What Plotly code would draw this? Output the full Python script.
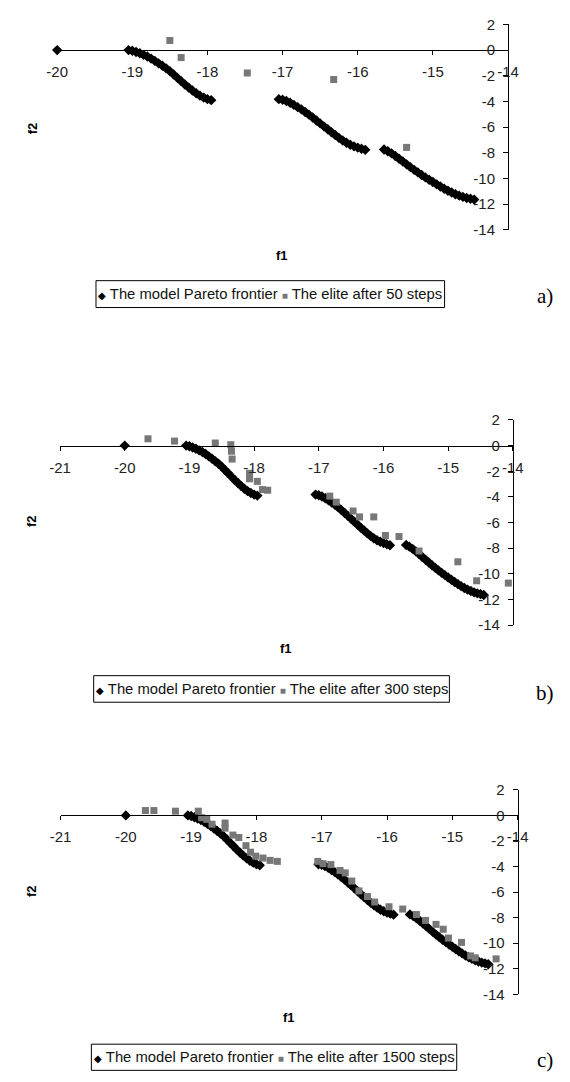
import plotly.graph_objects as go

W, H = 570, 1082

# ---------------- data ----------------
# Model Pareto frontier (identical in the three panels)
front_f1 = [-20.00,
            -19.05, -19.00, -18.95, -18.90, -18.85, -18.80, -18.75, -18.70, -18.65, -18.60,
            -18.55, -18.50, -18.45, -18.40, -18.35, -18.30, -18.25, -18.20, -18.15, -18.10,
            -18.05, -18.00, -17.95,
            -17.05, -17.00, -16.95, -16.90, -16.85, -16.80, -16.75, -16.70, -16.65, -16.60,
            -16.55, -16.50, -16.45, -16.40, -16.35, -16.30, -16.25, -16.20, -16.15, -16.10,
            -16.05, -16.00, -15.95, -15.90,
            -15.65, -15.60, -15.55, -15.50, -15.45, -15.40, -15.35, -15.30, -15.25, -15.20,
            -15.15, -15.10, -15.05, -15.00, -14.95, -14.90, -14.85, -14.80, -14.75, -14.70,
            -14.65, -14.60, -14.55, -14.50, -14.45]
front_f2 = [0.00,
            0.00, -0.05, -0.15, -0.25, -0.37, -0.50, -0.66, -0.84, -1.03, -1.22,
            -1.42, -1.64, -1.90, -2.16, -2.42, -2.68, -2.92, -3.15, -3.36, -3.55,
            -3.70, -3.82, -3.90,
            -3.82, -3.87, -3.97, -4.10, -4.27, -4.44, -4.62, -4.82, -5.03, -5.25,
            -5.48, -5.71, -5.94, -6.17, -6.40, -6.62, -6.84, -7.04, -7.22, -7.38,
            -7.50, -7.60, -7.69, -7.77,
            -7.75, -7.88, -8.05, -8.25, -8.46, -8.68, -8.90, -9.12, -9.33, -9.53,
            -9.73, -9.92, -10.10, -10.28, -10.46, -10.63, -10.80, -10.96, -11.10, -11.23,
            -11.34, -11.44, -11.52, -11.58, -11.65]

# The elite after 50 steps
elite50_f1 = [-18.50, -18.35, -17.47, -16.32, -15.35]
elite50_f2 = [0.75, -0.58, -1.78, -2.29, -7.58]

# The elite after 300 steps
elite300_f1 = [-19.64, -19.23, -18.60, -18.36, -18.35, -18.34, -18.07, -18.07, -17.95, -17.87,
               -17.79, -16.83, -16.73, -16.47, -16.37, -16.15, -15.97, -15.76, -15.45, -14.85,
               -14.56, -14.07]
elite300_f2 = [0.53, 0.35, 0.20, 0.07, -0.44, -1.05, -2.16, -2.59, -2.79, -3.43,
               -3.48, -3.94, -4.41, -5.10, -5.56, -5.56, -7.01, -7.09, -8.22, -9.06,
               -10.54, -10.72]

# The elite after 1500 steps
elite1500_f1 = [-19.70, -19.57, -19.24, -18.89, -18.84, -18.76, -18.68, -18.48, -18.48, -18.36,
                -18.27, -18.16, -18.09, -18.01, -17.90, -17.79, -17.68, -17.06, -16.98, -16.86,
                -16.72, -16.64, -16.54, -16.43, -16.30, -16.19, -15.97, -15.76, -15.55, -15.41,
                -15.25, -15.14, -15.06, -14.86, -14.72, -14.65, -14.33]
elite1500_f2 = [0.38, 0.38, 0.33, 0.33, -0.18, -0.31, -0.69, -0.60, -1.00, -1.54,
                -1.73, -2.37, -2.88, -3.19, -3.34, -3.52, -3.60, -3.60, -3.78, -3.85,
                -4.31, -4.50, -5.14, -5.91, -6.35, -6.78, -7.15, -7.33, -7.76, -8.22,
                -8.53, -8.91, -9.60, -9.94, -11.00, -11.15, -11.23]

front_name = "The model Pareto frontier"
elite_names = ["The elite after 50 steps", "The elite after 300 steps", "The elite after 1500 steps"]
panel_tags = ["a)", "b)", "c)"]

# tick values / labels (plain hyphen minus, as in the original)
x_ticks_a = [-20, -19, -18, -17, -16, -15, -14]
x_ticks_bc = [-21, -20, -19, -18, -17, -16, -15, -14]
y_ticks = [2, 0, -2, -4, -6, -8, -10, -12, -14]
x_ticks = [x_ticks_a, x_ticks_bc, x_ticks_bc]
x_ranges = [[-20, -14], [-21, -14], [-21, -14]]
y_range = [-14, 2]

# ---------------- layout geometry (pixels) ----------------
panels = [
    dict(left=48, right=517, top=15.7, bottom=224.3,
         f1=(281.8, 250), f2=(22, 121), leg=(88.4, 451, 276, 303.3), tag=(555, 292)),
    dict(left=51, right=522, top=417.5, bottom=626,
         f1=(286, 650), f2=(22, 520), leg=(86, 456, 677.3, 704.3), tag=(555, 695)),
    dict(left=51.5, right=527, top=793.3, bottom=1001,
         f1=(289, 1025), f2=(22, 896), leg=(83.6, 463.6, 1051.7, 1078.3), tag=(555, 1068)),
]
elites = [(elite50_f1, elite50_f2), (elite300_f1, elite300_f2), (elite1500_f1, elite1500_f2)]

FONT = "Liberation Sans, Arial, sans-serif"
GREY = "#777777"
TICKCOL = "#222222"


def px(x):
    return x / W


def py(y):
    return 1 - y / H


def lab(v):
    return "%d" % v


fig = go.Figure()
annotations = []
shapes = []
layout_axes = {}

for i, p in enumerate(panels):
    n = "" if i == 0 else str(i + 1)
    xa, ya = "x" + n, "y" + n
    ef1, ef2 = elites[i]
    fig.add_trace(go.Scatter(x=front_f1, y=front_f2, mode="markers", name=front_name,
                             xaxis=xa, yaxis=ya, cliponaxis=False, showlegend=False,
                             marker=dict(symbol="diamond", size=8, color="#000000",
                                         line=dict(width=0))))
    fig.add_trace(go.Scatter(x=ef1, y=ef2, mode="markers", name=elite_names[i],
                             xaxis=xa, yaxis=ya, cliponaxis=False, showlegend=False,
                             marker=dict(symbol="square", size=7, color=GREY,
                                         line=dict(width=0))))
    ydom = [py(p["bottom"]), py(p["top"])]
    xdom = [px(p["left"]), px(p["right"])]
    zero_pos = ydom[0] + (0 - y_range[0]) / (y_range[1] - y_range[0]) * (ydom[1] - ydom[0])
    layout_axes["xaxis" + n] = dict(
        domain=xdom, range=x_ranges[i], anchor="free", position=zero_pos,
        tickmode="array", tickvals=x_ticks[i], ticktext=[lab(v) for v in x_ticks[i]],
        showgrid=False, zeroline=False,
        showline=True, linecolor="#000000", linewidth=1,
        ticks="outside", ticklen=4, tickcolor="#000000",
        ticklabelstandoff=4,
        tickfont=dict(family=FONT, size=15, color=TICKCOL))
    layout_axes["yaxis" + n] = dict(
        domain=ydom, range=y_range, anchor="free", position=xdom[1], side="left",
        tickmode="array", tickvals=y_ticks, ticktext=[lab(v) for v in y_ticks],
        showgrid=False, zeroline=False,
        showline=True, linecolor="#000000", linewidth=1,
        ticks="outside", ticklen=5, tickcolor="#000000",
        ticklabelstandoff=5,
        tickfont=dict(family=FONT, size=15, color=TICKCOL))
    # axis titles
    annotations.append(dict(text="<b>f1</b>", x=px(p["f1"][0]), y=py(p["f1"][1]),
                            xref="paper", yref="paper", showarrow=False,
                            xanchor="center", yanchor="middle",
                            font=dict(family=FONT, size=13, color="#000000")))
    annotations.append(dict(text="<b>f2</b>", x=px(p["f2"][0]), y=py(p["f2"][1]),
                            xref="paper", yref="paper", showarrow=False, textangle=-90,
                            xanchor="center", yanchor="middle",
                            font=dict(family=FONT, size=13, color="#000000")))
    # legend box
    l, r, t, b = p["leg"]
    shapes.append(dict(type="rect", xref="paper", yref="paper",
                       x0=px(l), x1=px(r), y0=py(b), y1=py(t),
                       line=dict(color="#000000", width=1), fillcolor="rgba(0,0,0,0)"))
    leg_text = ("<span style='color:#000000;font-size:10px'>◆</span> " + front_name +
                " <span style='color:" + GREY + ";font-size:10px'>■</span> " + elite_names[i])
    annotations.append(dict(text=leg_text, x=px((l + r) / 2), y=py((t + b) / 2),
                            xref="paper", yref="paper", showarrow=False,
                            xanchor="center", yanchor="middle",
                            font=dict(family=FONT, size=14.8, color="#111111")))
    # panel tag
    annotations.append(dict(text=panel_tags[i], x=px(p["tag"][0]), y=py(p["tag"][1]),
                            xref="paper", yref="paper", showarrow=False,
                            xanchor="center", yanchor="middle",
                            font=dict(family="Liberation Serif, Times New Roman, serif",
                                      size=21, color="#000000")))

fig.update_layout(
    width=W, height=H, margin=dict(l=0, r=0, t=0, b=0),
    paper_bgcolor="#ffffff", plot_bgcolor="#ffffff",
    showlegend=False, annotations=annotations, shapes=shapes,
    **layout_axes)

fig.write_html("out.html",
               post_script="document.body.style.margin='0';document.body.style.overflow='hidden';")
